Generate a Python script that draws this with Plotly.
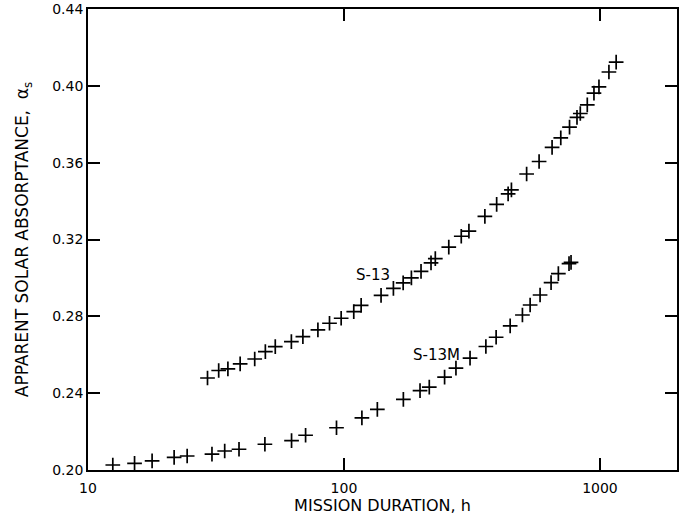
import plotly.graph_objects as go

# S-13 (upper series)
s13_hours = [29.3, 32.4, 35.2, 39.3, 44.8, 49.3, 53.9, 62.3, 69.1, 79.1, 87.8, 97.5,
             109.2, 116.7, 139.6, 156, 170.3, 183.4, 200, 218.8, 227.4, 256.7, 287.2,
             307.7, 355.2, 394.9, 437.8, 451.0, 517.1, 578.4, 650.1, 703.0, 760.6,
             813.4, 837.9, 892.3, 947.5, 991.1, 1084, 1157]
s13_alpha = [0.2479, 0.2518, 0.2526, 0.2553, 0.2578, 0.2616, 0.2642, 0.2668, 0.2694,
             0.2729, 0.2764, 0.2790, 0.2824, 0.2857, 0.2909, 0.2946, 0.2974, 0.3000,
             0.3034, 0.3078, 0.3100, 0.3160, 0.3217, 0.3244, 0.3320, 0.3383, 0.3438,
             0.3458, 0.3541, 0.3606, 0.3680, 0.3729, 0.3785, 0.3836, 0.3856, 0.3901,
             0.3962, 0.3995, 0.4072, 0.4123]

# S-13M (lower series)
s13m_hours = [12.5, 15.2, 17.8, 21.7, 24.4, 30.5, 34.2, 38.9, 49.1, 62.4, 70.8, 93.5,
              117.5, 135, 170.6, 198.2, 215.4, 247.2, 273.8, 310.8, 358.4, 393.0,
              445.9, 497.9, 533.6, 583.6, 644.2, 687.9, 757.1, 770.9]
s13m_alpha = [0.2026, 0.2035, 0.2048, 0.2066, 0.2073, 0.2083, 0.2099, 0.2108, 0.2134,
              0.2153, 0.2181, 0.2220, 0.2271, 0.2316, 0.2368, 0.2413, 0.2431, 0.2483,
              0.2530, 0.2582, 0.2643, 0.2691, 0.2750, 0.2807, 0.2859, 0.2911, 0.2976,
              0.3022, 0.3074, 0.3081]

x_tickvals = [10, 100, 1000]
x_ticktext = ["10", "100", "1000"]
y_tickvals = [0.20, 0.24, 0.28, 0.32, 0.36, 0.40, 0.44]
y_ticktext = ["0.20", "0.24", "0.28", "0.32", "0.36", "0.40", "0.44"]

FONT = "DejaVu Sans"

marker = dict(symbol="cross-thin", size=10.5, color="black",
              line=dict(color="black", width=1.7))

fig = go.Figure()
fig.add_trace(go.Scatter(x=s13_hours, y=s13_alpha, mode="markers", name="S-13",
                         marker=marker, showlegend=False))
fig.add_trace(go.Scatter(x=s13m_hours, y=s13m_alpha, mode="markers", name="S-13M",
                         marker=marker, showlegend=False))

fig.add_annotation(x=2.114, y=0.3016, xref="x", yref="y", text="S-13",
                   showarrow=False, font=dict(family=FONT, size=15, color="black"))
fig.add_annotation(x=2.36, y=0.2599, xref="x", yref="y", text="S-13M",
                   showarrow=False, font=dict(family=FONT, size=15, color="black"))

axis_common = dict(showline=True, linecolor="black", linewidth=1.8, mirror="ticks",
                   ticks="inside", ticklen=12, tickwidth=1.5, tickcolor="black",
                   showgrid=False, zeroline=False, automargin=False,
                   tickfont=dict(family=FONT, size=14, color="black"))

fig.update_xaxes(type="log", range=[1, 3.301], tickvals=x_tickvals, ticktext=x_ticktext,
                 ticklabelstandoff=4,
                 title=dict(text="MISSION DURATION, h", standoff=5,
                            font=dict(family=FONT, size=16, color="black")),
                 **axis_common)
fig.update_yaxes(range=[0.20, 0.44], tickvals=y_tickvals, ticktext=y_ticktext,
                 title=dict(text="APPARENT SOLAR ABSORPTANCE,  α<sub>s</sub>", standoff=19,
                            font=dict(family=FONT, size=17, color="black")),
                 **axis_common)

fig.update_layout(width=684, height=527, margin=dict(l=88, r=7, t=9, b=57),
                  plot_bgcolor="white", paper_bgcolor="white",
                  font=dict(family=FONT, color="black"))

fig.write_html("out.html")
